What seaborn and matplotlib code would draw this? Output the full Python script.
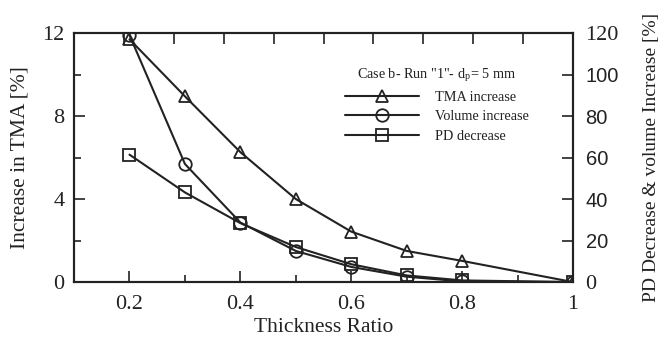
import numpy as np
import pandas as pd
import matplotlib
matplotlib.use("Agg")
import matplotlib.pyplot as plt
from matplotlib.lines import Line2D
import seaborn as sns

sns.set_theme(style="white")
plt.rcParams["font.family"] = ["Liberation Serif", "DejaVu Serif"]
plt.rcParams["mathtext.fontset"] = "stix"

# Thickness ratio values
thickness = [0.2, 0.3, 0.4, 0.5, 0.6, 0.7, 0.8, 1.0]
# Left axis: increase in TMA [%]
tma_increase = [11.7, 8.95, 6.26, 4.0, 2.43, 1.5, 1.02, 0.0]
# Right axis: volume increase and PD decrease [%]
volume_increase = [119.0, 56.9, 28.7, 15.0, 7.3, 2.6, 0.3, 0.0]
pd_decrease = [61.4, 43.2, 28.4, 16.9, 8.6, 3.2, 0.8, 0.0]

x_tick_labels = ["0.2", "0.4", "0.6", "0.8", "1"]
right_ticks = [0, 20, 40, 60, 80, 100, 120]

legend_title = 'Case b- Run "1"- d$_\\mathregular{p}$= 5 mm'
series_names = ["TMA increase", "Volume increase", "PD decrease"]

INK = "#222222"
fig, ax = plt.subplots(figsize=(6.61, 3.44), dpi=100)
fig.subplots_adjust(left=0.112, right=0.867, top=0.904, bottom=0.18)
ax2 = ax.twinx()

mk = dict(color=INK, linewidth=1.5, markersize=9,
          markerfacecolor="none", markeredgecolor=INK, markeredgewidth=1.3)

sns.lineplot(x=thickness, y=tma_increase, ax=ax, marker="^", **mk)
sns.lineplot(x=thickness, y=volume_increase, ax=ax2, marker="o", **mk)
sns.lineplot(x=thickness, y=pd_decrease, ax=ax2, marker="s", **mk)

ax.set_xlim(0.1, 1.0)
ax.set_ylim(0, 12)
ax2.set_ylim(0, 120)

ax.set_xticks([0.2, 0.4, 0.6, 0.8, 1.0])
ax.set_xticklabels(x_tick_labels)
ax.set_xticks([0.3, 0.5, 0.7, 0.9], minor=True)
ax.set_yticks([0, 4, 8, 12])
ax.set_yticks([2, 6, 10], minor=True)
ax2.set_yticks(right_ticks)
ax2.set_yticklabels([str(v) for v in right_ticks])

for a in (ax, ax2):
    for s in a.spines.values():
        s.set_color(INK)
        s.set_linewidth(1.5)

ax.tick_params(axis="both", which="major", direction="in", length=8, width=1.2,
               labelsize=16, colors=INK, top=False, right=False)
ax.tick_params(axis="x", which="major", pad=9)
ax.tick_params(axis="y", which="major", pad=7)
ax.tick_params(axis="both", which="minor", direction="in", length=5, width=1.2,
               colors=INK)
ax.tick_params(axis="y", which="both", left=True)
ax.tick_params(axis="x", which="both", bottom=True)
ax2.tick_params(axis="y", which="major", direction="in", length=8, width=1.2,
                labelsize=16, colors=INK, pad=9, right=True)
# inner right-axis labels are set in a sans face
for lbl in ax2.get_yticklabels():
    if lbl.get_text() not in ("0", "120"):
        lbl.set_fontfamily(["Liberation Sans", "DejaVu Sans"])
        lbl.set_fontsize(14.5)

# Tick marks along the top edge
top = ax.secondary_xaxis("top")
top.set_xticks(np.linspace(0.1, 1.0, 11))
top.tick_params(direction="in", length=8, width=1.2, colors=INK, labeltop=False)
top.spines["top"].set_visible(False)

ax.set_xlabel("Thickness Ratio", fontsize=15.5, color=INK, labelpad=3)
ax.set_ylabel("Increase in TMA [%]", fontsize=15.5, color=INK, labelpad=9)
ax2.set_ylabel("PD Decrease & volume Increase [%]", fontsize=14, color=INK)
ax2.yaxis.set_label_coords(1.14, 0.5)

handles = [Line2D([], [], marker=m, **mk) for m in ["^", "o", "s"]]
leg = ax.legend(handles, series_names, title=legend_title, loc="upper left",
                bbox_to_anchor=(0.522, 0.905), frameon=False, fontsize=10.3,
                title_fontsize=10.2, handlelength=5.2, handletextpad=1.1,
                labelspacing=0.45, borderpad=0.2)
for t in leg.get_texts():
    t.set_color(INK)
leg.get_title().set_color(INK)

ax.grid(False)
ax2.grid(False)
fig.savefig("out.png", dpi=100)
